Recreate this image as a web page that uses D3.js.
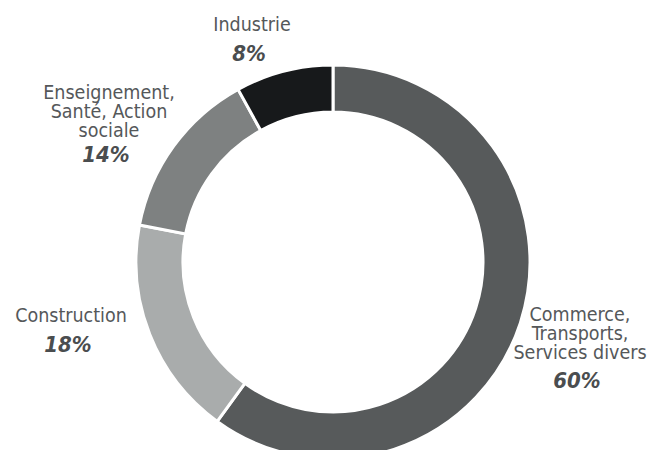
<!DOCTYPE html>
<html>
<head>
<meta charset="utf-8">
<script src="https://cdn.jsdelivr.net/npm/d3@7/dist/d3.min.js"></script>
<style>
  html, body { margin: 0; padding: 0; background: #ffffff; }
  svg { display: block; }
  .lbl { font-family: "DejaVu Sans Condensed", "DejaVu Sans", sans-serif; font-stretch: condensed; font-size: 19.5px; fill: #55585a; }
  .pct { font-family: "DejaVu Sans Condensed", "DejaVu Sans", sans-serif; font-stretch: condensed; font-size: 22px; font-weight: bold; font-style: oblique; fill: #4a4d4f; }
</style>
</head>
<body>
<script>
// ---- data ----
const categories = ["Commerce, Transports, Services divers", "Construction", "Enseignement, Santé, Action sociale", "Industrie"];
const labelLines = [["Commerce,", "Transports,", "Services divers"], ["Construction"], ["Enseignement,", "Santé, Action", "sociale"], ["Industrie"]];
const values = [60, 18, 14, 8];
const colors = ["#575a5b", "#a9acac", "#7e8181", "#17191b"];

// ---- layout ----
const W = 653, H = 450;
const cx = 333, cy = 262, outerR = 197, innerR = 150;
// label anchors: [x center, first baseline, percentage baseline]
const labelPos = [
  [580, 321, 388],
  [71, 321.5, 351.5],
  [109, 99, 162],
  [252, 30.5, 61]
];
const lineH = 19;

const svg = d3.select("body").append("svg").attr("width", W).attr("height", H);
const g = svg.append("g").attr("transform", `translate(${cx},${cy})`);

const pie = d3.pie().sort(null).value(d => d);
const arc = d3.arc().innerRadius(innerR).outerRadius(outerR);
const arcs = pie(values);

g.selectAll("path").data(arcs).enter().append("path")
  .attr("d", arc)
  .attr("fill", (d, i) => colors[i])
  .attr("stroke", "#ffffff")
  .attr("stroke-width", 3)
  .attr("stroke-linejoin", "miter");

const lg = svg.append("g");
arcs.forEach((a, i) => {
  const [x, y0, yp] = labelPos[i];
  const t = lg.append("text").attr("class", "lbl").attr("text-anchor", "middle");
  labelLines[i].forEach((ln, k) => {
    t.append("tspan").attr("x", x).attr("y", y0 + k * lineH).text(ln);
  });
  lg.append("text").attr("class", "pct").attr("text-anchor", "middle")
    .attr("x", x - 3).attr("y", yp).text(values[i] + "%");
});
</script>
</body>
</html>
